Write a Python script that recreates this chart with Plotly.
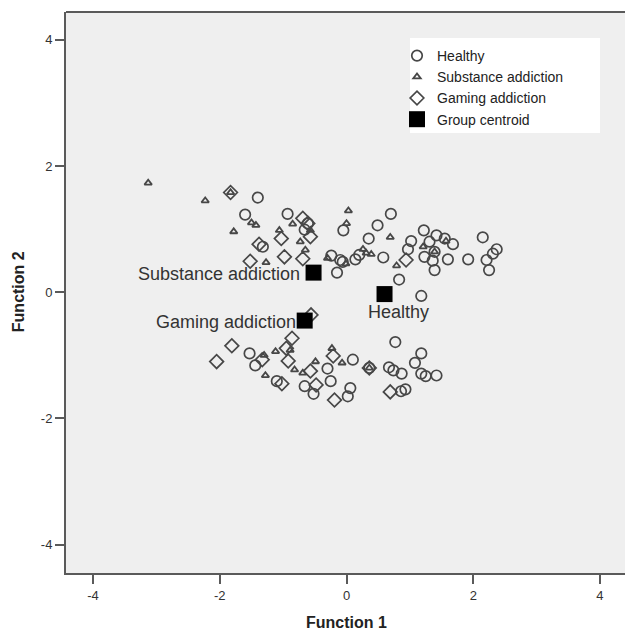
import plotly.graph_objects as go

# ---- data ----
healthy_x = [-1.40, -1.60, -1.32, -0.93, -0.61, -0.66, -0.05, 0.70, 0.49, 0.35, -0.24, -0.10,
             -0.06, -0.15, 0.14, 0.20, 0.58, 0.83, 0.97, 1.02, 1.22, 1.31, 1.42, 1.55, 1.68,
             1.23, 1.39, 1.36, 1.39, 1.60, 1.92, 2.15, 2.21, 2.25, 2.31, 2.37, 1.18,
             -1.53, -1.44, -1.10, -0.66, -0.52, -0.30, -0.25, 0.10, 0.02, 0.06, 0.36, 0.77,
             0.67, 0.74, 0.87, 1.18, 1.08, 1.18, 1.25, 1.42, 0.86, 0.93]
healthy_y = [1.50, 1.23, 0.72, 1.24, 1.09, 0.99, 0.98, 1.24, 1.06, 0.85, 0.58, 0.51,
             0.48, 0.31, 0.52, 0.59, 0.55, 0.20, 0.68, 0.81, 0.98, 0.80, 0.90, 0.85, 0.76,
             0.56, 0.64, 0.50, 0.35, 0.52, 0.52, 0.87, 0.51, 0.35, 0.61, 0.68, -0.06,
             -0.97, -1.16, -1.41, -1.49, -1.61, -1.21, -1.41, -1.07, -1.65, -1.52, -1.20, -0.79,
             -1.19, -1.24, -1.29, -0.97, -1.12, -1.29, -1.33, -1.32, -1.57, -1.54]

substance_x = [-3.13, -2.23, -1.83, -1.50, -1.43, -0.85, -1.78, -1.06, -1.27, -0.57, -0.73,
               -0.65, 0.03, 0.00, -0.30, -0.01, 0.26, 0.31, 0.39, 0.79, 0.69, 1.21, 1.57, 1.39,
               -1.28, -1.12, -0.89, -0.82, -0.69, -0.49, -0.23, -0.07, -1.30, 0.36]
substance_y = [1.73, 1.45, 1.58, 1.10, 1.06, 1.08, 0.96, 0.98, 0.47, 0.98, 0.80,
               0.67, 1.29, 1.09, 0.54, 0.45, 0.68, 0.62, 0.60, 0.42, 0.87, 0.72, 0.81, 0.64,
               -1.32, -0.94, -0.92, -1.23, -1.28, -1.10, -0.89, -1.12, -1.00, -1.20]

gaming_x = [-1.83, -1.38, -1.52, -1.03, -0.98, -0.69, -0.61, -0.57, -0.69, 0.94, -0.56,
            -2.05, -1.81, -1.33, -0.95, -0.86, -0.92, -1.02, -0.57, -0.48, -0.21, -0.19,
            0.69, 0.36]
gaming_y = [1.58, 0.76, 0.49, 0.85, 0.56, 1.17, 1.09, 0.88, 0.53, 0.51, -0.36,
            -1.10, -0.85, -1.07, -0.89, -0.73, -1.09, -1.45, -1.25, -1.47, -1.01, -1.71,
            -1.58, -1.20]

centroid_names = ["Healthy", "Substance addiction", "Gaming addiction"]
centroid_x = [0.60, -0.52, -0.66]
centroid_y = [-0.03, 0.31, -0.45]

x_ticks = [-4, -2, 0, 2, 4]
y_ticks = [-4, -2, 0, 2, 4]
x_title = "Function 1"
y_title = "Function 2"

FONT = "Arial, Liberation Sans, sans-serif"
MK = "#474747"

fig = go.Figure()
fig.add_trace(go.Scatter(x=healthy_x, y=healthy_y, mode="markers", name="Healthy",
                         marker=dict(symbol="circle-open", size=10.5, color=MK,
                                     line=dict(width=1.7, color=MK))))
fig.add_trace(go.Scatter(x=substance_x, y=substance_y, mode="markers", name="Substance addiction",
                         marker=dict(symbol="triangle-up-open", size=6.5, color=MK,
                                     line=dict(width=1.8, color=MK))))
fig.add_trace(go.Scatter(x=gaming_x, y=gaming_y, mode="markers", name="Gaming addiction",
                         marker=dict(symbol="diamond-open", size=10.5, color=MK,
                                     line=dict(width=1.7, color=MK))))
fig.add_trace(go.Scatter(x=centroid_x, y=centroid_y, mode="markers", name="Group centroid",
                         marker=dict(symbol="square", size=16, color="#000000",
                                     line=dict(width=0))))

label_pos = {
    "Healthy": dict(xanchor="center", xshift=14, yshift=-18),
    "Substance addiction": dict(xanchor="right", xshift=-12, yshift=-1),
    "Gaming addiction": dict(xanchor="right", xshift=-7, yshift=-1),
}
for nm, cx, cy in zip(centroid_names, centroid_x, centroid_y):
    fig.add_annotation(x=cx, y=cy, text=nm, showarrow=False, yanchor="middle",
                       font=dict(family=FONT, size=18, color="#333333"), **label_pos[nm])

# axis titles
fig.add_annotation(x=0, xref="x", y=0, yref="paper", yshift=-49, text="<b>%s</b>" % x_title,
                   showarrow=False, xanchor="center", yanchor="middle",
                   font=dict(family=FONT, size=16, color="#222222"))
fig.add_annotation(x=0, xref="paper", xshift=-48, y=0, yref="y", text="<b>%s</b>" % y_title,
                   showarrow=False, xanchor="center", yanchor="middle", textangle=-90,
                   font=dict(family=FONT, size=16, color="#222222"))

axis_common = dict(showgrid=False, zeroline=False, showline=True, linecolor="#5a5a5a",
                   linewidth=2, ticks="outside", ticklen=9, tickwidth=2, tickcolor="#5a5a5a",
                   automargin=False,
                   tickfont=dict(family=FONT, size=13, color="#333333"))

fig.update_xaxes(range=[-4.427, 4.395], tickvals=x_ticks, ticktext=[str(v) for v in x_ticks],
                 **axis_common)
fig.update_yaxes(range=[-4.45, 4.44], tickvals=y_ticks, ticktext=[str(v) for v in y_ticks],
                 **axis_common)

# top frame line and legend box
fig.add_shape(type="line", xref="paper", yref="paper", x0=0, x1=1, y0=1, y1=1,
              line=dict(color="#5a5a5a", width=2))
fig.add_shape(type="rect", xref="paper", yref="paper",
              x0=(410 - 66) / 559, x1=(600 - 66) / 559,
              y0=(573 - 133) / 561, y1=(573 - 38) / 561,
              fillcolor="white", line=dict(width=0), layer="below")

fig.update_layout(
    width=625, height=632,
    margin=dict(l=66, r=0, t=12, b=59),
    paper_bgcolor="white", plot_bgcolor="#efefef",
    showlegend=True,
    legend=dict(x=(397 - 66) / 559, y=(573 - 40) / 561, xanchor="left", yanchor="top",
                bgcolor="rgba(0,0,0,0)", borderwidth=0,
                font=dict(family=FONT, size=14, color="#222222"),
                itemwidth=30, tracegroupgap=0),
    font=dict(family=FONT),
)

fig.write_html("out.html", config={"displayModeBar": False},
               post_script="document.body.style.margin='0';document.body.style.overflow='hidden';")
